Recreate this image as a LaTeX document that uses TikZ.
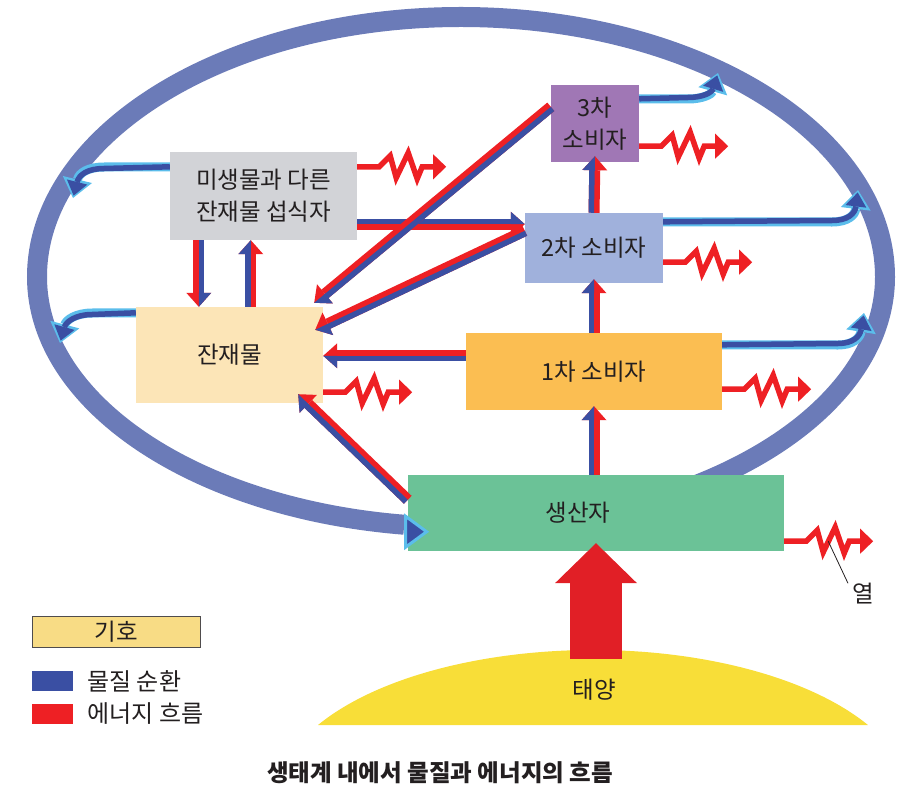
\documentclass[tikz,border=0pt]{standalone}
\usepackage{fontspec}
\setmainfont{Noto Sans CJK KR}
\usetikzlibrary{arrows.meta,calc,positioning}

\definecolor{ringblue}{HTML}{6B7BB8}
\definecolor{matterblue}{HTML}{3A4FA3}
\definecolor{skyedge}{HTML}{5BBDEB}
\definecolor{energyred}{HTML}{EE2024}
\definecolor{decgray}{HTML}{D2D3D7}
\definecolor{detcream}{HTML}{FCE5B7}
\definecolor{thirdpurple}{HTML}{A077B5}
\definecolor{secondblue}{HTML}{A0B1DC}
\definecolor{firstorange}{HTML}{FBBE52}
\definecolor{prodgreen}{HTML}{6BC297}
\definecolor{sunyellow}{HTML}{F8DE38}
\definecolor{sunred}{HTML}{E11F26}
\definecolor{keyyellow}{HTML}{F8DC85}
\definecolor{inkblack}{HTML}{231F20}

\tikzset{
    level/.style={inner sep=0pt, align=center, text=inkblack},
    ringline/.style={ringblue, line width=20pt},
    ringtip/.style={skyedge, line width=3pt, -{Triangle[length=25pt, width=36pt, fill=matterblue, line width=3pt]}},
    energypair/.style={energyred, line width=11pt, -{Triangle[length=14pt, width=25pt, line width=0pt]}},
    matterpair/.style={matterblue, line width=5.5pt, shorten >=13pt},
    matterhead/.style={matterblue, line width=0.1pt, -{Triangle[left, length=14pt, width=25pt, line width=0pt]}},
    heatline/.style={energyred, line width=5.5pt, miter limit=10, -{Triangle[length=13pt, width=25pt, line width=0pt]}},
    cycleedge/.style={skyedge, line width=9pt, -{Triangle[length=19pt, width=30pt, line width=0pt]}},
    cyclecore/.style={matterblue, line width=5.5pt, shorten >=2.5pt, -{Triangle[length=14pt, width=21pt, line width=0pt]}},
    sunray/.style={sunred, line width=52pt, -{Triangle[length=40pt, width=82pt, line width=0pt]}},
    swatch/.style={inner sep=0pt, minimum width=41pt, minimum height=20pt}
}

% blue (matter) on the left, red (energy) on the right of the direction
\newcommand\flowpair[2]{%
    \draw[energypair] (#1) -- (#2);
    \draw[matterpair] ($(#1)!2.75pt!90:(#2)$) -- ($(#2)!2.75pt!-90:(#1)$);
    \draw[matterhead] ($(#2)!14pt!(#1)$) -- (#2);
}
\newcommand\heatloss[1]{%
    \draw[heatline] (#1) -- ++(22,0) -- ++(11,-11) -- ++(6,22) -- ++(12,-25) -- ++(9,26) -- ++(5,-12) -- ++(24,0);
}
\newcommand\tocycle[2]{%
    \draw[cycleedge] #2;
    \draw[cyclecore, #1] #2;
}

\begin{document}
\begin{tikzpicture}[x=1pt, y=-1pt, font=\fontsize{23.5}{32}\selectfont]
    \useasboundingbox (0,0) rectangle (910,789);

    % cycle of matter
    \draw[ringline] (673,493.5)
        arc[start angle=60, end angle=0, x radius=424, y radius=250]
        arc[start angle=0, end angle=-180, x radius=424, y radius=260]
        arc[start angle=180, end angle=97.7, x radius=424, y radius=250]
        coordinate (ringend);

    % sun
    \fill[sunyellow] (318,725) arc[start angle=-150, end angle=-30, x radius=317.5, y radius=150] -- cycle;
    \node[level] (sun) at (594,690) {태양};
    \coordinate (sunbase) at (596,659);

    % levels
    \node[level, fill=decgray, minimum width=187pt, minimum height=88pt] (dec) at (263.5,196) {미생물과 다른\\잔재물 섭식자};
    \node[level, fill=detcream, minimum width=187pt, minimum height=96pt] (det) at (229.5,355) {잔재물};
    \node[level, fill=thirdpurple, minimum width=88pt, minimum height=77pt] (c3) at (595,123.5) {3차\\소비자};
    \node[level, fill=secondblue, minimum width=138pt, minimum height=70pt] (c2) at (594,248) {2차 소비자};
    \node[level, fill=firstorange, minimum width=256pt, minimum height=77pt] (c1) at (594,371.5) {1차 소비자};
    \node[level, fill=prodgreen, minimum width=376pt, minimum height=76pt,
        label={[level, xshift=-18pt]center:생산자}] (prod) at (596,513) {};

    % matter and energy
    \coordinate (decout) at ([yshift=16pt]dec.south east);
    \coordinate (c1out) at ([yshift=-23pt]c1.north west);
    \flowpair{prod.north -| c1.south}{[yshift=4pt]c1.south}
    \flowpair{c1.north}{[yshift=4pt]c2.south}
    \flowpair{c2.north}{[yshift=6pt]c3.south}
    \flowpair{decout}{c2.west |- decout}
    \flowpair{[xshift=29pt]dec.south west}{[xshift=63pt]det.north west}
    \flowpair{[xshift=115pt]det.north west}{[xshift=81pt]dec.south west}
    \flowpair{c1out}{det.east |- c1out}
    \flowpair{[yshift=-22pt]c3.north west}{[xshift=-9pt, yshift=4pt]det.north east}
    \flowpair{[yshift=-18pt]c2.north west}{[xshift=-8pt, yshift=-23pt]det.north east}
    \flowpair{[yshift=-25pt]prod.north west}{[xshift=-25pt, yshift=9pt]det.south east}

    % back to the cycle
    \coordinate (r3) at (718,73);
    \coordinate (r2) at (858,190);
    \coordinate (r1) at (864,313);
    \coordinate (rdec) at (73,198);
    \coordinate (rdet) at (60,343);
    \tocycle{yshift=1.5pt}{([yshift=-14pt]c3.north east) -- (688,99) .. controls (703,99) and (712,94) .. (r3)}
    \tocycle{yshift=1.5pt}{([yshift=-9pt]c2.north east) -- (832,222) .. controls (848,222) and (855,215) .. (r2)}
    \tocycle{yshift=1.5pt}{([yshift=-12pt]c1.north east) -- (838,345) .. controls (853,345) and (860,338) .. (r1)}
    \tocycle{yshift=-1.5pt}{([yshift=-15pt]dec.north west) -- (104,167) .. controls (88,167) and (79,173) .. (rdec)}
    \tocycle{yshift=-1.5pt}{([yshift=-6pt]det.north west) -- (92,313) .. controls (76,313) and (66,320) .. (rdet)}

    % heat
    \heatloss{[yshift=-15pt]dec.north east}
    \heatloss{[yshift=16pt]c3.south east}
    \heatloss{[yshift=21pt]c2.south east}
    \heatloss{[yshift=11pt]det.south east}
    \heatloss{[yshift=21pt]c1.south east}
    \heatloss{[yshift=10pt]prod.south east}
    \coordinate (heatpt) at ([xshift=44pt, yshift=10pt]prod.south east);
    \node[level] (heat) at (863,594) {열};
    \draw[inkblack, line width=0.8pt] (heatpt) -- ([xshift=-4pt]heat.north west);

    \draw[sunray] (sunbase) -- ([yshift=8pt]prod.south);
    \draw[ringtip] ([yshift=-7pt]ringend) -- ++(25,0);

    % key
    \node[level, fill=keyyellow, draw=inkblack!80, line width=1pt, minimum width=168pt, minimum height=31pt] (key) at (116,631.5) {기호};
    \node[swatch, fill=matterblue] (keymatter) at (52.5,681) {};
    \node[swatch, fill=energyred] (keyenergy) at (52.5,714) {};
    \node[level, font=\fontsize{24}{28}\selectfont, right=14pt of keymatter] (keymattertext) {물질 순환};
    \node[level, font=\fontsize{24}{28}\selectfont, right=14pt of keyenergy] (keyenergytext) {에너지 흐름};

    \node[level, font=\fontsize{23.5}{28}\selectfont\bfseries] (title) at (440,773) {생태계 내에서 물질과 에너지의 흐름};
\end{tikzpicture}
\end{document}
